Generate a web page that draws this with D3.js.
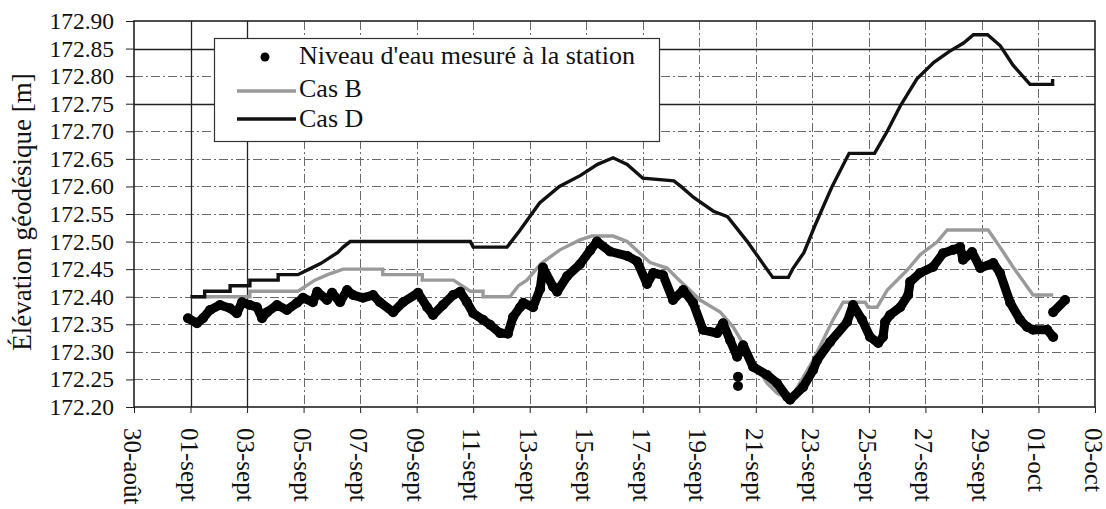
<html>
<meta charset="utf-8">
<style>
body { margin: 0; background: #fff; }
text { font-family: "Liberation Serif", "Times New Roman", serif; fill: #111; }
.grid { stroke: #6a6a6a; stroke-width: 1; stroke-dasharray: 9,3,2,3; }
.gridsolid { stroke: #222; stroke-width: 1.3; }
</style>
<body>
<script src="https://cdn.jsdelivr.net/npm/d3@7"></script>
<script>

/* x values are days counted from 01-sept (1 = 01-sept 00h, 31 = 01-oct) */
var xTicks = [-1, 1, 3, 5, 7, 9, 11, 13, 15, 17, 19, 21, 23, 25, 27, 29, 31, 33];
var xLabels = ['30-août', '01-sept', '03-sept', '05-sept', '07-sept', '09-sept', '11-sept',
    '13-sept', '15-sept', '17-sept', '19-sept', '21-sept', '23-sept', '25-sept',
    '27-sept', '29-sept', '01-oct', '03-oct'];
var yTicks = [172.20, 172.25, 172.30, 172.35, 172.40, 172.45, 172.50, 172.55,
    172.60, 172.65, 172.70, 172.75, 172.80, 172.85, 172.90];
var solidY = [172.85, 172.75];   // lines that came out solid in the original
var solidX = [1, 3];

var seriesNames = ["Niveau d'eau mesuré à la station", 'Cas B', 'Cas D'];

// measured water level (station)
var measured = [
    [0.91, 172.361], [1.23, 172.352], [1.44, 172.361], [1.69, 172.376], [2.04, 172.385],
    [2.40, 172.379], [2.64, 172.370], [2.82, 172.390], [3.10, 172.385], [3.35, 172.381],
    [3.53, 172.361], [3.71, 172.372], [4.06, 172.385], [4.41, 172.376], [4.77, 172.389],
    [4.98, 172.398], [5.33, 172.390], [5.48, 172.409], [5.83, 172.394], [6.01, 172.407],
    [6.29, 172.390], [6.54, 172.412], [6.75, 172.403], [7.10, 172.398], [7.46, 172.403],
    [7.70, 172.390], [8.17, 172.372], [8.52, 172.390], [9.05, 172.407], [9.37, 172.381],
    [9.58, 172.367], [9.93, 172.385], [10.29, 172.403], [10.54, 172.409], [10.78, 172.390],
    [11.00, 172.370], [11.35, 172.358], [11.60, 172.349], [11.95, 172.334], [12.23, 172.333],
    [12.41, 172.363], [12.66, 172.381], [12.77, 172.389], [13.12, 172.381], [13.37, 172.414],
    [13.47, 172.453], [13.83, 172.418], [13.97, 172.409], [14.32, 172.437], [14.78, 172.459],
    [15.14, 172.484], [15.38, 172.500], [15.84, 172.482], [16.45, 172.474], [16.80, 172.464],
    [17.15, 172.423], [17.37, 172.443], [17.72, 172.439], [18.07, 172.394], [18.43, 172.412],
    [18.78, 172.389], [19.13, 172.340], [19.63, 172.334], [19.84, 172.352], [20.09, 172.321],
    [20.34, 172.291], [20.55, 172.312], [20.90, 172.273], [21.40, 172.258], [21.75, 172.243],
    [22.11, 172.218], [22.21, 172.213], [22.67, 172.236], [23.03, 172.267], [23.17, 172.285],
    [23.63, 172.318], [24.23, 172.354], [24.44, 172.385], [24.76, 172.358], [25.04, 172.327],
    [25.33, 172.316], [25.50, 172.327], [25.57, 172.354], [25.75, 172.367], [26.11, 172.381],
    [26.39, 172.403], [26.46, 172.427], [26.81, 172.443], [27.27, 172.454], [27.63, 172.479],
    [27.98, 172.485], [28.23, 172.490], [28.33, 172.467], [28.65, 172.481], [28.94, 172.452],
    [29.40, 172.461], [29.64, 172.443], [30.00, 172.389], [30.35, 172.358], [30.60, 172.345],
    [30.81, 172.340], [31.31, 172.340], [31.52, 172.327]
];
var measuredTail = [[31.52, 172.372], [31.94, 172.394]];
var measuredOutliers = [[20.37, 172.255], [20.37, 172.238]];

var casB = [
    [1.0, 172.40], [3.1, 172.40], [3.1, 172.41], [4.8, 172.41], [5.4, 172.43], [5.85, 172.44],
    [6.4, 172.45], [7.8, 172.45], [7.8, 172.44], [9.2, 172.44], [9.2, 172.43], [10.3, 172.43],
    [10.9, 172.41], [11.35, 172.41], [11.35, 172.40], [12.3, 172.40], [12.6, 172.42],
    [12.9, 172.43], [13.4, 172.46], [14.07, 172.485], [14.78, 172.503], [15.2, 172.51],
    [15.95, 172.51], [16.45, 172.50], [16.66, 172.49], [17.26, 172.462], [17.86, 172.452],
    [18.21, 172.434], [19.03, 172.394], [19.74, 172.372], [20.2, 172.345], [20.9, 172.285],
    [21.4, 172.243], [21.75, 172.225], [22.21, 172.213], [23.03, 172.285], [23.73, 172.358],
    [24.09, 172.39], [24.87, 172.39], [24.97, 172.381], [25.29, 172.381], [25.65, 172.412],
    [26.35, 172.448], [26.81, 172.476], [27.41, 172.499], [27.77, 172.521], [29.22, 172.521],
    [29.64, 172.49], [30.10, 172.454], [30.81, 172.403], [31.52, 172.403]
];

var casD = [
    [1.0, 172.40], [1.5, 172.40], [1.5, 172.41], [2.4, 172.41], [2.4, 172.42], [3.1, 172.42],
    [3.1, 172.43], [4.1, 172.43], [4.1, 172.44], [4.8, 172.44], [5.2, 172.45], [5.6, 172.46],
    [5.9, 172.47], [6.2, 172.48], [6.4, 172.49], [6.65, 172.50], [10.9, 172.50], [11.0, 172.49],
    [12.2, 172.49], [12.65, 172.52], [13.35, 172.57], [14.05, 172.60], [14.8, 172.62],
    [15.4, 172.64], [15.95, 172.652], [16.45, 172.64], [17.0, 172.615], [18.1, 172.61],
    [18.35, 172.60], [18.8, 172.58], [19.5, 172.555], [20.0, 172.545], [20.7, 172.50],
    [21.25, 172.46], [21.6, 172.435], [22.15, 172.435], [22.3, 172.45], [22.7, 172.48],
    [23.1, 172.53], [23.7, 172.60], [24.3, 172.66], [25.2, 172.66], [25.65, 172.70],
    [26.1, 172.745], [26.7, 172.795], [27.3, 172.825], [27.85, 172.845], [28.35, 172.86],
    [28.7, 172.875], [29.2, 172.875], [29.65, 172.855], [30.1, 172.82], [30.7, 172.785],
    [31.5, 172.785], [31.5, 172.795]
];

/*******************
layout
********************/
var width = 1106, height = 509,
    plotL = 134, plotR = 1095, plotT = 21, plotB = 407;

var svg = d3.select('body').append('svg')
    .attr('width', width)
    .attr('height', height);

var x = d3.scaleLinear().domain([-1, 33]).range([plotL, plotR]);
var y = d3.scaleLinear().domain([172.20, 172.90]).range([plotB, plotT]);

// grid
svg.append('g').selectAll('line')
    .data(yTicks.slice(1, -1))
    .enter().append('line')
    .attr('class', function(d){ return solidY.indexOf(d) >= 0 ? 'gridsolid' : 'grid'; })
    .attr('x1', plotL).attr('x2', plotR)
    .attr('y1', function(d){ return Math.round(y(d)) + 0.5; })
    .attr('y2', function(d){ return Math.round(y(d)) + 0.5; });

svg.append('g').selectAll('line')
    .data(xTicks.slice(1, -1))
    .enter().append('line')
    .attr('class', function(d){ return solidX.indexOf(d) >= 0 ? 'gridsolid' : 'grid'; })
    .attr('y1', plotT).attr('y2', plotB)
    .attr('x1', function(d){ return Math.round(x(d)) + 0.5; })
    .attr('x2', function(d){ return Math.round(x(d)) + 0.5; });

// axes
var yAxis = svg.append('g')
    .attr('transform', 'translate(' + plotL + ',0)')
    .call(d3.axisLeft(y).tickValues(yTicks).tickSize(8).tickPadding(12)
        .tickFormat(function(d){ return d.toFixed(2); }));
yAxis.select('.domain').remove();
yAxis.selectAll('line').attr('stroke', '#222');
yAxis.selectAll('text').style('font-size', '23.5px').attr('fill', '#111');

var xAxis = svg.append('g')
    .attr('transform', 'translate(0,' + plotB + ')')
    .call(d3.axisBottom(x).tickValues(xTicks).tickSize(6)
        .tickFormat(function(d, i){ return xLabels[i]; }));
xAxis.select('.domain').remove();
xAxis.selectAll('line').attr('stroke', '#222');
xAxis.selectAll('text')
    .attr('y', 0).attr('dy', null)
    .attr('transform', 'translate(-2,21) rotate(90)')
    .attr('text-anchor', 'start')
    .attr('dominant-baseline', 'central')
    .style('font-size', '25px')
    .attr('fill', '#111');

// frame
svg.append('rect')
    .attr('x', plotL).attr('y', plotT)
    .attr('width', plotR - plotL).attr('height', plotB - plotT)
    .attr('fill', 'none').attr('stroke', '#222').attr('stroke-width', 1.6);

// y title
svg.append('text')
    .attr('transform', 'translate(31,212) rotate(-90)')
    .attr('text-anchor', 'middle')
    .style('font-size', '27px')
    .text('Élévation géodésique [m]');

/*******************
series
********************/
var line = d3.line()
    .x(function(d){ return x(d[0]); })
    .y(function(d){ return y(d[1]); });

svg.append('path').datum(casB)
    .attr('d', line).attr('fill', 'none')
    .attr('stroke', '#9a9a9a').attr('stroke-width', 3.4);

svg.append('path').datum(casD)
    .attr('d', line).attr('fill', 'none')
    .attr('stroke', '#111').attr('stroke-width', 3.4);

[measured, measuredTail].forEach(function(seg) {
    svg.append('path').datum(seg)
        .attr('d', line).attr('fill', 'none')
        .attr('stroke', '#000').attr('stroke-width', 9)
        .attr('stroke-linejoin', 'round').attr('stroke-linecap', 'round');
});

svg.append('g').selectAll('circle')
    .data(measured.concat(measuredTail, measuredOutliers))
    .enter().append('circle')
    .attr('cx', function(d){ return x(d[0]); })
    .attr('cy', function(d){ return y(d[1]); })
    .attr('r', 5)
    .attr('fill', '#000');

/*******************
legend
********************/
var legend = svg.append('g');
legend.append('rect')
    .attr('x', 214.5).attr('y', 38.5).attr('width', 445).attr('height', 103)
    .attr('fill', '#fff').attr('stroke', '#333').attr('stroke-width', 1.2);

var rows = [64, 97, 127];
legend.append('circle').attr('cx', 265).attr('cy', rows[0] - 7).attr('r', 4.5).attr('fill', '#000');
legend.append('line').attr('x1', 237).attr('x2', 296).attr('y1', rows[1] - 6).attr('y2', rows[1] - 6)
    .attr('stroke', '#9a9a9a').attr('stroke-width', 3.4);
legend.append('line').attr('x1', 237).attr('x2', 296).attr('y1', rows[2] - 8).attr('y2', rows[2] - 8)
    .attr('stroke', '#111').attr('stroke-width', 3.4);

legend.selectAll('text.lab')
    .data(seriesNames)
    .enter().append('text')
    .attr('class', 'lab')
    .attr('x', 299)
    .attr('y', function(d, i){ return rows[i]; })
    .style('font-size', '26px')
    .text(function(d){ return d; });

</script>
</body>
</html>
